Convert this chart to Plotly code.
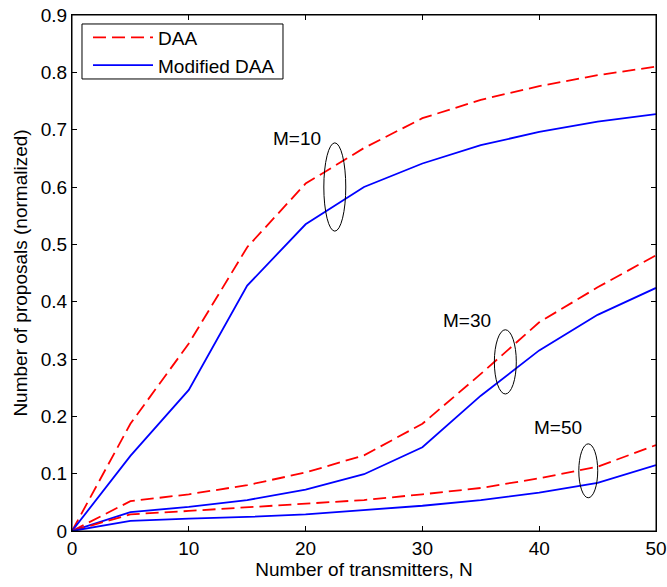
import plotly.graph_objects as go

N = [0, 5, 10, 15, 20, 25, 30, 35, 40, 45, 50]

daa_m10 = [0, 0.187, 0.327, 0.495, 0.606, 0.668, 0.720, 0.752, 0.776, 0.795, 0.810]
mod_m10 = [0, 0.131, 0.246, 0.428, 0.535, 0.600, 0.641, 0.673, 0.696, 0.714, 0.727]
daa_m30 = [0, 0.052, 0.064, 0.080, 0.102, 0.132, 0.187, 0.274, 0.364, 0.425, 0.481]
mod_m30 = [0, 0.033, 0.042, 0.054, 0.072, 0.099, 0.146, 0.236, 0.315, 0.377, 0.424]
daa_m50 = [0, 0.029, 0.035, 0.041, 0.047, 0.054, 0.064, 0.075, 0.092, 0.112, 0.150]
mod_m50 = [0, 0.0175, 0.0215, 0.0245, 0.029, 0.036, 0.044, 0.054, 0.067, 0.084, 0.115]

x_ticks = [0, 10, 20, 30, 40, 50]
y_ticks = [0, 0.1, 0.2, 0.3, 0.4, 0.5, 0.6, 0.7, 0.8, 0.9]
y_tick_text = ["0", "0.1", "0.2", "0.3", "0.4", "0.5", "0.6", "0.7", "0.8", "0.9"]

labels = ["M=10", "M=30", "M=50"]
label_pos = [(19.3, 0.685), (33.85, 0.367), (41.6, 0.18)]
# ellipses: (center x, center y, half width, half height)
ellipses = [(22.5, 0.600, 0.94, 0.077), (37.1, 0.295, 0.94, 0.056), (44.2, 0.105, 0.81, 0.047)]

RED = "#ff0000"
BLUE = "#0000ff"
FONT = "Liberation Sans, Arial, Helvetica, sans-serif"
FS = 19

fig = go.Figure()
dash_style = "13px,6px"
for i, (d, m) in enumerate([(daa_m10, mod_m10), (daa_m30, mod_m30), (daa_m50, mod_m50)]):
    fig.add_trace(go.Scatter(x=N, y=d, mode="lines", name="DAA",
                             line=dict(color=RED, width=1.8, dash=dash_style),
                             showlegend=(i == 0), legendrank=1))
    fig.add_trace(go.Scatter(x=N, y=m, mode="lines", name="Modified DAA",
                             line=dict(color=BLUE, width=1.8),
                             showlegend=(i == 0), legendrank=2))

for text, (lx, ly) in zip(labels, label_pos):
    fig.add_annotation(x=lx, y=ly, text=text, showarrow=False,
                       font=dict(family=FONT, size=FS, color="black"))

for (cx, cy, hw, hh) in ellipses:
    fig.add_shape(type="circle", xref="x", yref="y",
                  x0=cx - hw, x1=cx + hw, y0=cy - hh, y1=cy + hh,
                  line=dict(color="black", width=1))

# legend frame
fig.add_shape(type="rect", xref="paper", yref="paper",
              x0=0.0171, x1=0.3613, y0=0.876, y1=0.9826,
              line=dict(color="black", width=1), fillcolor="white", layer="below")

# plot frame
fig.add_shape(type="rect", xref="paper", yref="paper",
              x0=0, x1=1, y0=0, y1=1,
              line=dict(color="black", width=1), layer="above")

axis_common = dict(showline=True, linecolor="black", linewidth=1, mirror="ticks",
                   ticks="inside", ticklen=5, tickcolor="black", showgrid=False,
                   zeroline=False, automargin=False, ticklabeloverflow="allow",
                   tickfont=dict(family=FONT, size=FS, color="black"))

fig.update_layout(
    width=667, height=587,
    margin=dict(l=72, r=11, t=15, b=56),
    paper_bgcolor="white", plot_bgcolor="white",
    font=dict(family=FONT, size=FS, color="black"),
    xaxis=dict(range=[0, 50], tickvals=x_ticks, **axis_common,
               title=dict(text="Number of transmitters, N", standoff=2,
                          font=dict(family=FONT, size=FS))),
    yaxis=dict(range=[0, 0.9], tickvals=y_ticks, ticktext=y_tick_text, **axis_common,
               title=dict(text="Number of proposals (normalized)", standoff=8,
                          font=dict(family=FONT, size=FS))),
    legend=dict(x=0.0274, y=0.993, xanchor="left", yanchor="top",
                borderwidth=0, bgcolor="rgba(0,0,0,0)",
                font=dict(family=FONT, size=FS), itemwidth=60,
                tracegroupgap=0),
)

fig.write_html("out.html",
               config={"displayModeBar": False},
               post_script="document.body.style.margin='0';document.body.style.overflow='hidden';")
